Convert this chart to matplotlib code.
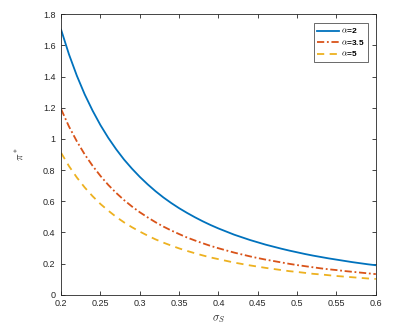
import matplotlib
matplotlib.use("Agg")
import matplotlib.pyplot as plt
import numpy as np

plt.rcParams['font.family'] = ['Liberation Sans', 'DejaVu Sans']
plt.rcParams['mathtext.fontset'] = 'cm'

# values
sigma_s = [0.20, 0.21, 0.22, 0.23, 0.24, 0.25, 0.26, 0.27, 0.28, 0.29, 0.30,
           0.31, 0.32, 0.33, 0.34, 0.35, 0.36, 0.37, 0.38, 0.39, 0.40,
           0.41, 0.42, 0.43, 0.44, 0.45, 0.46, 0.47, 0.48, 0.49, 0.50,
           0.51, 0.52, 0.53, 0.54, 0.55, 0.56, 0.57, 0.58, 0.59, 0.60]
pi_a2 = [1.700, 1.542, 1.405, 1.285, 1.181, 1.088, 1.006, 0.933, 0.867, 0.809, 0.756,
         0.708, 0.664, 0.624, 0.588, 0.555, 0.525, 0.497, 0.471, 0.447, 0.425,
         0.405, 0.385, 0.368, 0.351, 0.336, 0.321, 0.308, 0.295, 0.283, 0.272,
         0.261, 0.251, 0.242, 0.233, 0.225, 0.217, 0.209, 0.202, 0.195, 0.189]
pi_a35 = [1.190, 1.079, 0.984, 0.900, 0.827, 0.762, 0.704, 0.653, 0.607, 0.566, 0.529,
          0.496, 0.465, 0.437, 0.412, 0.389, 0.367, 0.348, 0.330, 0.313, 0.298,
          0.284, 0.270, 0.258, 0.246, 0.235, 0.225, 0.216, 0.207, 0.198, 0.190,
          0.183, 0.176, 0.169, 0.163, 0.158, 0.152, 0.147, 0.142, 0.137, 0.132]
pi_a5 = [0.910, 0.825, 0.752, 0.688, 0.632, 0.582, 0.539, 0.499, 0.464, 0.433, 0.405,
         0.379, 0.355, 0.334, 0.315, 0.297, 0.281, 0.266, 0.252, 0.239, 0.228,
         0.217, 0.206, 0.197, 0.188, 0.180, 0.172, 0.165, 0.158, 0.151, 0.146,
         0.140, 0.134, 0.130, 0.125, 0.120, 0.116, 0.112, 0.108, 0.104, 0.101]
labels = ['$\\alpha$=2', '$\\alpha$=3.5', '$\\alpha$=5']
xticks = [0.2, 0.25, 0.3, 0.35, 0.4, 0.45, 0.5, 0.55, 0.6]
yticks = [0, 0.2, 0.4, 0.6, 0.8, 1, 1.2, 1.4, 1.6, 1.8]

fig = plt.figure(figsize=(4.13, 3.30), dpi=100)
ax = fig.add_axes([0.148, 0.107, 0.762, 0.850])

ax.plot(sigma_s, pi_a2, color='#0072BD', lw=1.3, ls='-', label=labels[0])
ax.plot(sigma_s, pi_a35, color='#D95319', lw=1.3, ls=(0, (4, 1.5, 1, 1.5)), label=labels[1])
ax.plot(sigma_s, pi_a5, color='#EDB120', lw=1.3, ls=(0, (4, 3)), label=labels[2])

ax.set_xlim(0.2, 0.6)
ax.set_ylim(0, 1.8)
ax.set_xticks(xticks)
ax.set_xticklabels([f"{t:g}" for t in xticks])
ax.set_yticks(yticks)
ax.set_yticklabels([f"{t:g}" for t in yticks])
ax.tick_params(direction='in', top=True, right=True, length=3, width=0.6,
               labelsize=6.5, colors='#262626')
ax.tick_params(axis='y', pad=4)
ax.tick_params(axis='x', pad=3)
for s in ax.spines.values():
    s.set_linewidth(0.6)
    s.set_color('#262626')

ax.set_xlabel('$\\sigma_S$', fontsize=8, color='#262626', labelpad=4)
ax.set_ylabel('$\\pi^*$', fontsize=8, color='#262626', labelpad=12)

leg = ax.legend(loc='upper right', bbox_to_anchor=(0.975, 0.968),
                prop={'size': 6, 'weight': 'bold'}, frameon=True, fancybox=False,
                edgecolor='#262626', handlelength=2.6, borderpad=0.4,
                labelspacing=0.3, handletextpad=0.3, borderaxespad=0)
leg.get_frame().set_linewidth(0.6)

fig.savefig('out.png', dpi=100)
